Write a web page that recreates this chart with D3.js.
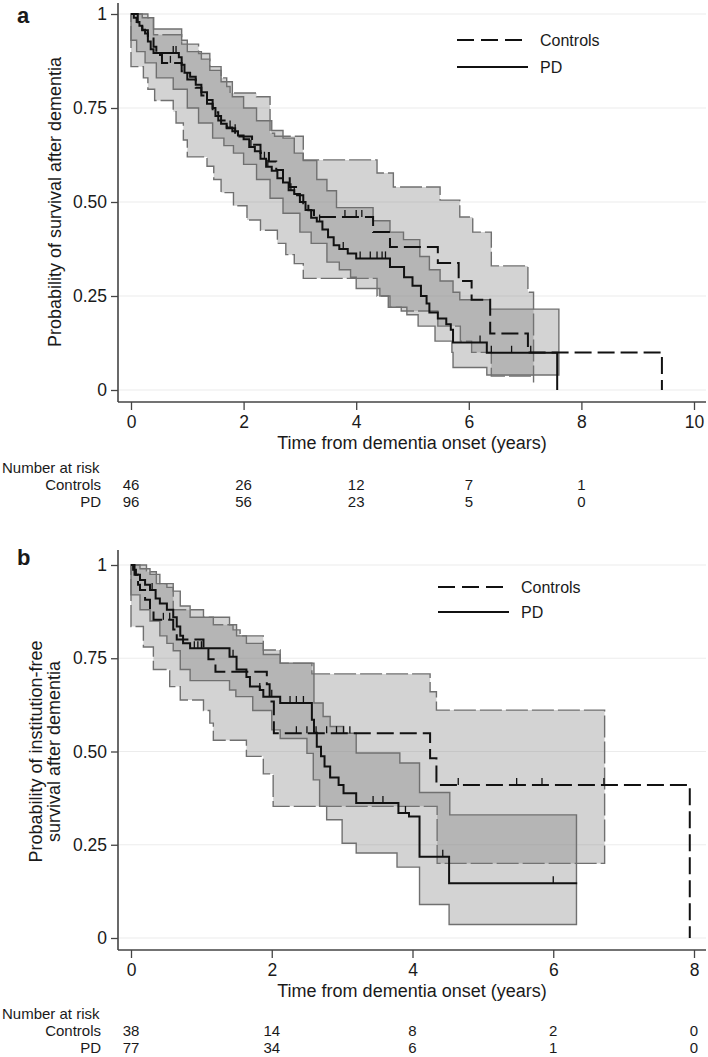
<!DOCTYPE html>
<html>
<head>
<meta charset="utf-8">
<script src="https://cdn.jsdelivr.net/npm/d3@7"></script>
<style>
body { margin: 0; background: #fff; }
text { font-family: "Liberation Sans", Arial, sans-serif; fill: #1a1a1a; }
</style>
</head>
<body>
<script>
// ---- data ----
var yTicks = [0, 0.25, 0.5, 0.75, 1];
var yTickLabels = ["0", "0.25", "0.50", "0.75", "1"];
var xTicksA = [0, 2, 4, 6, 8, 10];
var xTicksB = [0, 2, 4, 6, 8];
var groups = ["Controls", "PD"];
var riskTimes = [0, 2, 4, 6, 8];
var riskA_controls = [46, 26, 12, 7, 1];
var riskA_pd = [96, 56, 23, 5, 0];
var riskB_controls = [38, 14, 8, 2, 0];
var riskB_pd = [77, 34, 6, 1, 0];

// panel a: Kaplan-Meier steps [time, survival]
var ctrlA = [[0,1],[0.12,0.978],[0.2,0.957],[0.3,0.935],[0.4,0.913],[0.45,0.891],[0.55,0.87],[0.9,0.848],[1.0,0.826],[1.15,0.804],[1.25,0.783],[1.35,0.761],[1.45,0.739],[1.55,0.717],[1.7,0.696],[1.85,0.674],[2.15,0.652],[2.3,0.63],[2.45,0.608],[2.58,0.585],[2.7,0.563],[2.82,0.54],[2.95,0.518],[3.06,0.497],[3.15,0.478],[3.25,0.46],[4.3,0.42],[4.6,0.38],[5.45,0.338],[5.82,0.29],[6.05,0.24],[6.38,0.15],[7.05,0.10],[9.43,0]];
var pdA = [[0,1],[0.05,0.99],[0.1,0.979],[0.15,0.969],[0.2,0.958],[0.25,0.948],[0.3,0.927],[0.35,0.906],[0.4,0.896],[0.85,0.885],[0.9,0.865],[0.95,0.844],[1.05,0.833],[1.15,0.812],[1.25,0.792],[1.35,0.771],[1.45,0.75],[1.5,0.729],[1.6,0.708],[1.7,0.698],[1.8,0.688],[1.9,0.677],[2.0,0.667],[2.1,0.646],[2.2,0.635],[2.3,0.615],[2.4,0.594],[2.5,0.583],[2.6,0.563],[2.7,0.552],[2.8,0.531],[2.9,0.521],[3.0,0.5],[3.1,0.479],[3.2,0.458],[3.3,0.448],[3.4,0.427],[3.5,0.406],[3.6,0.385],[3.7,0.375],[3.85,0.363],[4.0,0.35],[4.6,0.327],[4.85,0.3],[5.0,0.277],[5.15,0.25],[5.25,0.23],[5.3,0.206],[5.45,0.19],[5.6,0.175],[5.68,0.16],[5.72,0.126],[6.32,0.099],[7.57,0]];
var ctrlA_hi = [[0,1],[0.3,0.99],[0.4,0.945],[0.9,0.92],[1.2,0.895],[1.4,0.86],[1.6,0.83],[1.7,0.807],[1.76,0.79],[2.23,0.78],[2.47,0.683],[2.55,0.675],[3.06,0.612],[4.37,0.577],[4.66,0.54],[5.49,0.505],[5.84,0.46],[6.07,0.42],[6.4,0.33],[7.05,0.26],[7.15,0.26]];
var ctrlA_lo = [[0,0.86],[0.22,0.83],[0.3,0.8],[0.42,0.77],[0.75,0.74],[0.8,0.71],[0.93,0.665],[1.0,0.62],[1.35,0.595],[1.47,0.56],[1.6,0.525],[1.82,0.49],[2.06,0.452],[2.3,0.425],[2.6,0.39],[2.75,0.36],[2.9,0.336],[3.06,0.297],[4.37,0.25],[4.57,0.22],[4.8,0.21],[5.45,0.17],[5.85,0.13],[6.05,0.1],[6.4,0.037],[7.15,0.02]];
var pdA_hi = [[0,1],[0.2,0.99],[0.4,0.96],[0.9,0.93],[1.0,0.9],[1.25,0.88],[1.4,0.85],[1.6,0.82],[1.8,0.78],[2.0,0.75],[2.23,0.716],[2.5,0.69],[2.7,0.67],[2.9,0.63],[3.06,0.61],[3.3,0.56],[3.48,0.53],[3.65,0.485],[4.3,0.45],[4.6,0.42],[4.84,0.4],[5.13,0.355],[5.3,0.32],[5.49,0.29],[5.72,0.26],[5.84,0.24],[6.38,0.215],[7.6,0.215]];
var pdA_lo = [[0,0.93],[0.1,0.9],[0.25,0.87],[0.45,0.83],[0.75,0.8],[1.0,0.75],[1.2,0.71],[1.45,0.67],[1.65,0.65],[1.82,0.63],[2.0,0.6],[2.23,0.56],[2.47,0.51],[2.7,0.47],[3.0,0.42],[3.2,0.39],[3.48,0.34],[3.7,0.32],[3.9,0.3],[4.0,0.27],[4.42,0.25],[4.6,0.22],[4.9,0.2],[5.1,0.17],[5.4,0.13],[5.7,0.1],[5.72,0.06],[6.32,0.04],[7.6,0.04]];
var ctrlA_cens = [0.7, 3.8, 4.0, 4.1];
var pdA_cens = [0.75, 0.8, 1.76, 1.85, 2.13, 2.37, 2.43, 2.84, 2.9, 3.35, 3.77, 4.07, 4.25, 4.37, 4.46, 4.52, 6.2, 6.4, 6.76, 7.1];

// panel b
var ctrlB = [[0,1],[0.05,0.974],[0.1,0.947],[0.128,0.933],[0.2,0.907],[0.27,0.88],[0.32,0.853],[0.6,0.827],[0.65,0.8],[1.03,0.774],[1.1,0.747],[1.2,0.714],[1.93,0.68],[1.97,0.634],[2.03,0.549],[4.25,0.482],[4.34,0.41],[7.94,0]];
var pdB = [[0,1],[0.03,0.987],[0.07,0.974],[0.128,0.96],[0.2,0.947],[0.27,0.933],[0.35,0.91],[0.41,0.897],[0.51,0.88],[0.6,0.86],[0.65,0.835],[0.7,0.81],[0.74,0.79],[0.84,0.777],[1.4,0.754],[1.5,0.72],[1.64,0.7],[1.69,0.674],[1.83,0.665],[1.88,0.647],[2.12,0.63],[2.57,0.585],[2.6,0.55],[2.64,0.513],[2.7,0.487],[2.75,0.46],[2.83,0.43],[2.95,0.41],[3.02,0.388],[3.2,0.362],[3.8,0.335],[3.95,0.326],[4.1,0.218],[4.52,0.147],[6.34,0.147]];
var ctrlB_hi = [[0,1],[0.22,0.982],[0.36,0.95],[0.6,0.88],[1.03,0.86],[1.17,0.84],[1.45,0.826],[1.55,0.81],[1.88,0.772],[2.12,0.737],[2.57,0.708],[4.25,0.66],[4.34,0.611],[6.73,0.611]];
var ctrlB_lo = [[0,0.835],[0.176,0.78],[0.318,0.72],[0.55,0.674],[0.7,0.638],[1.03,0.61],[1.12,0.576],[1.17,0.53],[1.64,0.487],[1.88,0.44],[2.02,0.353],[4.35,0.2],[6.73,0.2]];
var pdB_hi = [[0,1],[0.128,0.99],[0.27,0.975],[0.41,0.95],[0.51,0.94],[0.6,0.93],[0.7,0.89],[0.84,0.86],[1.4,0.84],[1.5,0.81],[1.64,0.79],[1.88,0.76],[2.12,0.737],[2.6,0.63],[2.73,0.594],[2.83,0.567],[3.02,0.549],[3.2,0.496],[3.82,0.469],[4.1,0.39],[4.53,0.33],[6.33,0.33]];
var pdB_lo = [[0,0.92],[0.128,0.88],[0.27,0.85],[0.41,0.81],[0.51,0.79],[0.6,0.77],[0.7,0.72],[0.84,0.69],[1.4,0.665],[1.49,0.647],[1.73,0.61],[2.0,0.558],[2.12,0.535],[2.5,0.495],[2.59,0.424],[2.68,0.353],[2.78,0.317],[3.0,0.254],[3.2,0.228],[3.78,0.19],[4.1,0.09],[4.52,0.036],[6.33,0.036]];
var ctrlB_cens = [0.46, 0.55, 2.35, 2.5, 2.63, 2.78, 2.92, 3.02, 3.11, 4.65, 5.48, 5.84, 6.72];
var pdB_cens = [0.3, 0.9, 0.95, 1.0, 1.45, 1.83, 2.0, 2.26, 2.35, 2.45, 2.83, 3.44, 3.58, 3.9, 4.43, 6.0];

// ---- drawing ----
var svg = d3.select('body').append('svg')
	.attr('width', 708)
	.attr('height', 1057);

function stepAt(arr, t) {
	var v = arr[0][1];
	for (var i = 0; i < arr.length; i++) {
		if (arr[i][0] <= t) v = arr[i][1];
	}
	return v;
}

function bandData(lo, hi) {
	var end = Math.min(lo[lo.length - 1][0], hi[hi.length - 1][0]);
	var times = Array.from(new Set(lo.map(function(d) { return d[0]; }).concat(hi.map(function(d) { return d[0]; }))))
		.filter(function(t) { return t <= end; })
		.sort(function(a, b) { return a - b; });
	return times.map(function(t) { return {t: t, lo: stepAt(lo, t), hi: stepAt(hi, t)}; });
}

function drawPanel(p) {
	var g = svg.append('g');
	var x = d3.scaleLinear().domain(p.xDomain).range([131, 694]);
	var y = d3.scaleLinear().domain([0, 1]).range([p.y0, p.y1]);

	// gridlines
	g.selectAll('.grid').data(yTicks).enter().append('line')
		.attr('x1', 119).attr('x2', 706)
		.attr('y1', function(d) { return y(d); }).attr('y2', function(d) { return y(d); })
		.attr('stroke', '#ececec').attr('stroke-width', 1.2);

	// confidence bands
	var area = d3.area().curve(d3.curveStepAfter)
		.x(function(d) { return x(d.t); })
		.y0(function(d) { return y(d.lo); })
		.y1(function(d) { return y(d.hi); });
	g.append('path').datum(bandData(p.ctrlLo, p.ctrlHi)).attr('d', area)
		.attr('fill', '#787878').attr('fill-opacity', 0.33)
		.attr('stroke', '#707070').attr('stroke-width', 1.4).attr('stroke-dasharray', '22,4');
	g.append('path').datum(bandData(p.pdLo, p.pdHi)).attr('d', area)
		.attr('fill', '#787878').attr('fill-opacity', 0.33)
		.attr('stroke', '#707070').attr('stroke-width', 1.4);

	// survival curves
	var line = d3.line().curve(d3.curveStepAfter)
		.x(function(d) { return x(d[0]); })
		.y(function(d) { return y(d[1]); });
	g.append('path').datum(p.ctrl).attr('d', line)
		.attr('fill', 'none').attr('stroke', '#111').attr('stroke-width', 2)
		.attr('stroke-dasharray', '17,6');
	g.append('path').datum(p.pd).attr('d', line)
		.attr('fill', 'none').attr('stroke', '#111').attr('stroke-width', 2);

	// censoring ticks
	g.selectAll('.cc').data(p.ctrlCens).enter().append('line')
		.attr('x1', function(d) { return x(d); }).attr('x2', function(d) { return x(d); })
		.attr('y1', function(d) { return y(stepAt(p.ctrl, d)); })
		.attr('y2', function(d) { return y(stepAt(p.ctrl, d)) - 7; })
		.attr('stroke', '#111').attr('stroke-width', 1.3);
	g.selectAll('.pc').data(p.pdCens).enter().append('line')
		.attr('x1', function(d) { return x(d); }).attr('x2', function(d) { return x(d); })
		.attr('y1', function(d) { return y(stepAt(p.pd, d)); })
		.attr('y2', function(d) { return y(stepAt(p.pd, d)) - 7; })
		.attr('stroke', '#111').attr('stroke-width', 1.3);

	// axes
	var yAxis = d3.axisLeft(y).tickValues(yTicks).tickSize(7).tickPadding(4)
		.tickFormat(function(d, i) { return yTickLabels[i]; });
	var yg = g.append('g').attr('transform', 'translate(118,0)').call(yAxis);
	yg.select('.domain').attr('d', 'M0,' + p.axisTop + 'V' + (p.axisBottom));
	var xAxis = d3.axisBottom(x).tickValues(p.xTicks).tickSize(8).tickPadding(6);
	var xg = g.append('g').attr('transform', 'translate(0,' + p.axisBottom + ')').call(xAxis);
	xg.select('.domain').attr('d', 'M118,0H706');
	g.selectAll('.domain').attr('stroke', '#444').attr('stroke-width', 1.6);
	g.selectAll('.tick line').attr('stroke', '#444').attr('stroke-width', 1.3);
	g.selectAll('.tick text').attr('font-size', 17.5).attr('font-family', '"Liberation Sans", Arial, sans-serif').attr('fill', '#1a1a1a');

	// axis titles
	g.append('text').attr('x', 412).attr('y', p.axisBottom + 46.5)
		.attr('text-anchor', 'middle').attr('font-size', 18)
		.text('Time from dementia onset (years)');
	var yt = g.append('text').attr('text-anchor', 'middle').attr('font-size', 18)
		.attr('transform', 'translate(' + p.yTitleX + ',' + ((p.y0 + p.y1) / 2) + ') rotate(-90)');
	p.yTitle.forEach(function(s, i) {
		yt.append('tspan').attr('x', 0).attr('dy', i === 0 ? 0 : 18).text(s);
	});

	// panel letter
	g.append('text').attr('x', 17).attr('y', p.letterY)
		.attr('font-size', 22).attr('font-weight', 'bold').text(p.letter);

	// legend
	var leg = g.append('g');
	[0, 1].forEach(function(i) {
		var ly = p.legY + i * p.legGap;
		leg.append('line').attr('x1', p.legX).attr('x2', p.legX + 71)
			.attr('y1', ly).attr('y2', ly)
			.attr('stroke', '#111').attr('stroke-width', 2)
			.attr('stroke-dasharray', i === 0 ? '17,7' : null);
		leg.append('text').attr('x', p.legX + 83).attr('y', ly + 6)
			.attr('font-size', 16).text(groups[i]);
	});

	// number at risk
	var rt = p.riskY;
	g.append('text').attr('x', 2).attr('y', rt).attr('font-size', 15).text('Number at risk');
	[p.riskCtrl, p.riskPd].forEach(function(row, r) {
		var ry = rt + 17 + r * 17;
		g.append('text').attr('x', 101).attr('y', ry).attr('text-anchor', 'end')
			.attr('font-size', 15).text(groups[r]);
		g.selectAll('.risk' + r).data(row).enter().append('text')
			.attr('x', function(d, i) { return x(riskTimes[i]); })
			.attr('y', ry).attr('text-anchor', 'middle').attr('font-size', 15)
			.text(function(d) { return d; });
	});
}

drawPanel({
	letter: 'a', letterY: 23,
	xDomain: [0, 10], xTicks: xTicksA,
	y0: 390, y1: 14, axisTop: 3, axisBottom: 402,
	yTitle: ['Probability of survival after dementia'], yTitleX: 61,
	ctrl: ctrlA, pd: pdA, ctrlHi: ctrlA_hi, ctrlLo: ctrlA_lo, pdHi: pdA_hi, pdLo: pdA_lo,
	ctrlCens: ctrlA_cens, pdCens: pdA_cens,
	legX: 457, legY: 40, legGap: 27,
	riskY: 473, riskCtrl: riskA_controls, riskPd: riskA_pd
});

drawPanel({
	letter: 'b', letterY: 565,
	xDomain: [0, 8], xTicks: xTicksB,
	y0: 938, y1: 565, axisTop: 550, axisBottom: 950,
	yTitle: ['Probability of institution-free', 'survival after dementia'], yTitleX: 42,
	ctrl: ctrlB, pd: pdB, ctrlHi: ctrlB_hi, ctrlLo: ctrlB_lo, pdHi: pdB_hi, pdLo: pdB_lo,
	ctrlCens: ctrlB_cens, pdCens: pdB_cens,
	legX: 438, legY: 587, legGap: 25,
	riskY: 1019, riskCtrl: riskB_controls, riskPd: riskB_pd
});
</script>
</body>
</html>
